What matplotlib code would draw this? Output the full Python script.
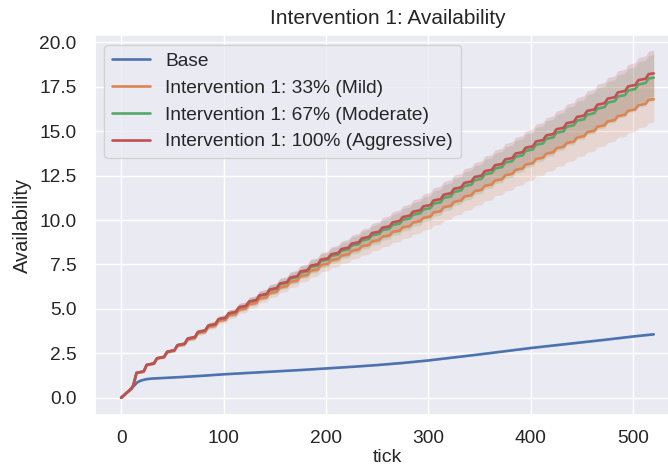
import matplotlib
matplotlib.use("Agg")
import matplotlib.pyplot as plt
import numpy as np
import seaborn as sns

sns.set_theme()
plt.rcParams["font.family"] = ["Liberation Sans", "DejaVu Sans"]

# tick grid of the intervention runs: start, then (step foot, step top) every 10 ticks
TICKS = [0, 10] + [t for k in range(1, 52) for t in (10 * k + 2, 10 * k + 5)] + [520]

MILD = [0, 0.52,
        0.72, 1.40, 1.48, 1.85, 1.93, 2.22, 2.30, 2.59, 2.67, 2.94,
        3.02, 3.29, 3.37, 3.64, 3.72, 3.98, 4.06, 4.32, 4.40, 4.63,
        4.71, 4.95, 5.03, 5.26, 5.34, 5.58, 5.66, 5.89, 5.97, 6.21,
        6.29, 6.52, 6.60, 6.84, 6.92, 7.15, 7.23, 7.47, 7.55, 7.74,
        7.82, 8.00, 8.08, 8.27, 8.35, 8.53, 8.61, 8.80, 8.88, 9.06,
        9.14, 9.33, 9.41, 9.59, 9.67, 9.86, 9.94, 10.12, 10.20, 10.42,
        10.50, 10.72, 10.80, 11.02, 11.10, 11.32, 11.40, 11.62, 11.70, 11.92,
        12.00, 12.22, 12.30, 12.52, 12.60, 12.82, 12.90, 13.12, 13.20, 13.43,
        13.51, 13.73, 13.81, 14.04, 14.12, 14.33, 14.41, 14.64, 14.72, 14.94,
        15.02, 15.25, 15.33, 15.55, 15.63, 15.85, 15.93, 16.15, 16.23, 16.46,
        16.54, 16.76,
        16.80]

MODERATE = [0, 0.52,
            0.72, 1.40, 1.48, 1.85, 1.93, 2.22, 2.30, 2.59, 2.67, 2.96,
            3.04, 3.33, 3.41, 3.70, 3.78, 4.06, 4.14, 4.42, 4.50, 4.74,
            4.82, 5.08, 5.16, 5.40, 5.48, 5.74, 5.82, 6.06, 6.14, 6.39,
            6.47, 6.71, 6.79, 7.04, 7.12, 7.36, 7.44, 7.69, 7.77, 7.98,
            8.06, 8.27, 8.35, 8.56, 8.64, 8.85, 8.93, 9.14, 9.22, 9.43,
            9.51, 9.72, 9.80, 10.01, 10.09, 10.30, 10.38, 10.59, 10.67, 10.92,
            11.00, 11.25, 11.33, 11.58, 11.66, 11.91, 11.99, 12.24, 12.32, 12.57,
            12.65, 12.90, 12.98, 13.23, 13.31, 13.56, 13.64, 13.89, 13.97, 14.23,
            14.31, 14.57, 14.65, 14.91, 14.99, 15.25, 15.33, 15.59, 15.67, 15.93,
            16.01, 16.27, 16.35, 16.61, 16.69, 16.95, 17.03, 17.29, 17.37, 17.63,
            17.71, 17.97,
            18.01]

AGGRESSIVE = [0, 0.52,
              0.72, 1.40, 1.48, 1.85, 1.93, 2.22, 2.30, 2.59, 2.67, 2.96,
              3.04, 3.33, 3.41, 3.70, 3.78, 4.06, 4.14, 4.42, 4.50, 4.75,
              4.83, 5.09, 5.17, 5.42, 5.50, 5.76, 5.84, 6.09, 6.17, 6.43,
              6.51, 6.76, 6.84, 7.10, 7.18, 7.43, 7.51, 7.77, 7.85, 8.07,
              8.15, 8.37, 8.45, 8.67, 8.75, 8.97, 9.05, 9.27, 9.35, 9.57,
              9.65, 9.87, 9.95, 10.17, 10.25, 10.47, 10.55, 10.77, 10.85, 11.10,
              11.18, 11.43, 11.51, 11.76, 11.84, 12.09, 12.17, 12.42, 12.50, 12.75,
              12.83, 13.08, 13.16, 13.41, 13.49, 13.74, 13.82, 14.07, 14.15, 14.42,
              14.50, 14.76, 14.84, 15.11, 15.19, 15.45, 15.53, 15.80, 15.88, 16.14,
              16.22, 16.49, 16.57, 16.83, 16.91, 17.18, 17.26, 17.52, 17.60, 17.87,
              17.95, 18.21,
              18.25]

# half width of the confidence band around each intervention run
SPREAD = [0, 0.03,
          0.04, 0.05, 0.06, 0.06, 0.07, 0.07, 0.08, 0.09, 0.10, 0.10,
          0.11, 0.12, 0.13, 0.13, 0.15, 0.15, 0.17, 0.17, 0.19, 0.20,
          0.21, 0.22, 0.23, 0.24, 0.25, 0.26, 0.27, 0.28, 0.29, 0.30,
          0.31, 0.32, 0.34, 0.34, 0.36, 0.37, 0.38, 0.39, 0.41, 0.42,
          0.44, 0.45, 0.47, 0.48, 0.50, 0.51, 0.53, 0.54, 0.56, 0.57,
          0.59, 0.60, 0.62, 0.63, 0.65, 0.66, 0.68, 0.69, 0.71, 0.72,
          0.73, 0.74, 0.76, 0.76, 0.78, 0.79, 0.81, 0.81, 0.83, 0.84,
          0.86, 0.86, 0.88, 0.89, 0.91, 0.91, 0.93, 0.94, 0.96, 0.97,
          0.99, 1.00, 1.02, 1.03, 1.05, 1.06, 1.08, 1.09, 1.11, 1.12,
          1.14, 1.15, 1.17, 1.18, 1.20, 1.21, 1.23, 1.24, 1.26, 1.27,
          1.29, 1.30,
          1.31]

BASE_TICKS = [0, 5, 10, 13, 16, 20, 25, 30, 40, 60, 80, 100, 125, 150, 175, 200,
              225, 250, 275, 300, 325, 350, 375, 400, 425, 450, 475, 500, 520]
BASE = [0, 0.25, 0.50, 0.70, 0.88, 0.98, 1.05, 1.08, 1.11, 1.17, 1.24, 1.32, 1.40,
        1.48, 1.56, 1.65, 1.74, 1.84, 1.96, 2.10, 2.27, 2.44, 2.62, 2.80, 2.96,
        3.12, 3.28, 3.45, 3.57]
BASE_SPREAD = [0, 0.01, 0.02, 0.03, 0.03, 0.03, 0.03, 0.03, 0.03, 0.03, 0.03, 0.03,
               0.03, 0.03, 0.03, 0.03, 0.03, 0.04, 0.04, 0.04, 0.04, 0.04, 0.04,
               0.04, 0.04, 0.05, 0.05, 0.05, 0.05]

LABELS = ["Base", "Intervention 1: 33% (Mild)", "Intervention 1: 67% (Moderate)",
          "Intervention 1: 100% (Aggressive)"]
COLORS = sns.color_palette("deep")[:4]

fig = plt.figure(figsize=(6.68, 4.73), dpi=100)
ax = fig.add_axes([0.1415, 0.1226, 0.877, 0.803])

bx = np.array(BASE_TICKS)
by = np.array(BASE)
bs = np.array(BASE_SPREAD)
ax.fill_between(bx, by - bs, by + bs, color=COLORS[0], alpha=0.2, linewidth=0)
ax.plot(bx, by, color=COLORS[0], lw=1.9, label=LABELS[0])

x = np.array(TICKS)
s = np.array(SPREAD)
for vals, lab, col in zip([MILD, MODERATE, AGGRESSIVE], LABELS[1:], COLORS[1:]):
    y = np.array(vals)
    ax.fill_between(x, y - s, y + s, color=col, alpha=0.2, linewidth=0)
    ax.plot(x, y, color=col, lw=1.9, label=lab)

ax.set_xlim(-26, 546)
ax.set_ylim(-0.97, 20.4)
ax.set_xticks([0, 100, 200, 300, 400, 500])
ax.set_yticks([0, 2.5, 5, 7.5, 10, 12.5, 15, 17.5, 20])
ax.set_yticklabels([f"{v:.1f}" for v in [0, 2.5, 5, 7.5, 10, 12.5, 15, 17.5, 20]])
ax.tick_params(axis="y", labelsize=13.75, pad=7)
ax.tick_params(axis="x", labelsize=13.75, pad=5)
ax.set_xlabel("tick", fontsize=14, labelpad=1)
ax.set_ylabel("Availability", fontsize=14.5, labelpad=5)
ax.set_title("Intervention 1: Availability", fontsize=15, pad=8)
ax.legend(loc="upper left", fontsize=13.75, handlelength=2.0)

fig.savefig("out.png", dpi=100)
